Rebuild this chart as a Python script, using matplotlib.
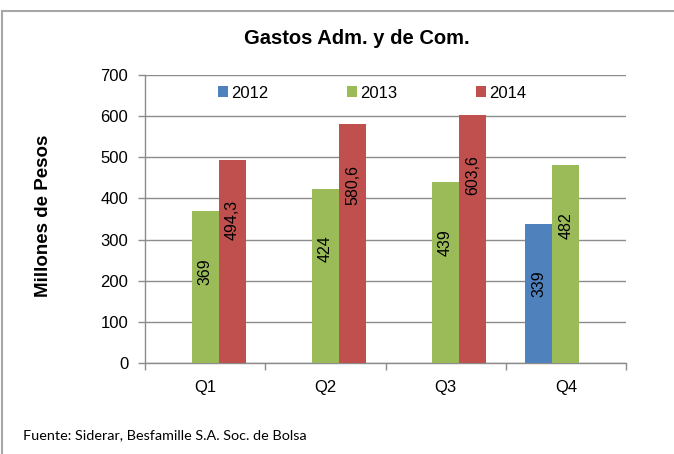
import matplotlib
matplotlib.use('Agg')
import matplotlib.pyplot as plt
import numpy as np
from matplotlib.patches import Rectangle

plt.rcParams['font.family'] = ['Liberation Sans', 'DejaVu Sans']

quarters = ['Q1', 'Q2', 'Q3', 'Q4']
years = ['2012', '2013', '2014']
values_2012 = [np.nan, np.nan, np.nan, 339]
values_2013 = [369, 424, 439, 482]
values_2014 = [494.3, 580.6, 603.6, np.nan]
series = [values_2012, values_2013, values_2014]
colors = ['#4F81BD', '#9BBB59', '#C0504D']

W, H = 674, 454
fig = plt.figure(figsize=(W / 100, H / 100), dpi=100, facecolor='white')
ax = fig.add_axes([145 / W, (H - 363) / H, 481 / W, 288 / H])

x = np.arange(len(quarters))
bw = 0.225
grid_c = '#8C8C8C'

for i, (vals, col, yr) in enumerate(zip(series, colors, years)):
    xs = x + (i - 1) * bw
    ax.bar(xs, vals, width=bw, color=col, label=yr, zorder=3)
    for xi, v in zip(xs, vals):
        if np.isnan(v):
            continue
        txt = f'{v:g}'.replace('.', ',')
        ax.text(xi, v - 147, txt, rotation=90, ha='center', va='center',
                fontsize=11.5, color='black', zorder=4)

ax.set_xlim(-0.5, 3.5)
ax.set_ylim(0, 700)
ax.set_yticks(range(0, 701, 100))
ax.set_xticks(x)
ax.set_xticklabels(quarters)
ax.set_xticks(np.arange(-0.5, 3.6, 1), minor=True)
ax.tick_params(axis='x', which='major', length=0, pad=12, labelsize=12)
ax.tick_params(axis='x', which='minor', length=5, color=grid_c, width=1)
ax.tick_params(axis='y', length=5, color=grid_c, width=1, pad=7, labelsize=12)

ax.yaxis.grid(True, color=grid_c, linewidth=1, zorder=0)
ax.set_axisbelow(True)
for s in ['top', 'right']:
    ax.spines[s].set_visible(False)
for s in ['left', 'bottom']:
    ax.spines[s].set_color(grid_c)
    ax.spines[s].set_linewidth(1)

ax.legend(loc='center', bbox_to_anchor=(372 / W, (H - 93) / H),
          bbox_transform=fig.transFigure, ncol=3, frameon=False,
          fontsize=12, handlelength=0.6, handleheight=0.6,
          handletextpad=0.2, columnspacing=4.7, borderaxespad=0)

fig.text(357 / W, (H - 38) / H, 'Gastos Adm. y de Com.', ha='center',
         va='center', fontsize=14.5, fontweight='bold')
fig.text(44 / W, (H - 216) / H, 'Millones de Pesos', rotation=90,
         ha='center', va='center', fontsize=13.5, fontweight='bold')
fig.text(23 / W, (H - 435) / H, 'Fuente: Siderar, Besfamille S.A. Soc. de Bolsa',
         ha='left', va='center', fontsize=10.4, family=['Lato', 'DejaVu Sans'])

fig.patches.append(Rectangle((2 / W, -0.1), 1.2, (H - 11) / H + 0.1,
                             transform=fig.transFigure, fill=False,
                             edgecolor='#A6A6A6', linewidth=1.5))

fig.savefig('out.png', dpi=100)
